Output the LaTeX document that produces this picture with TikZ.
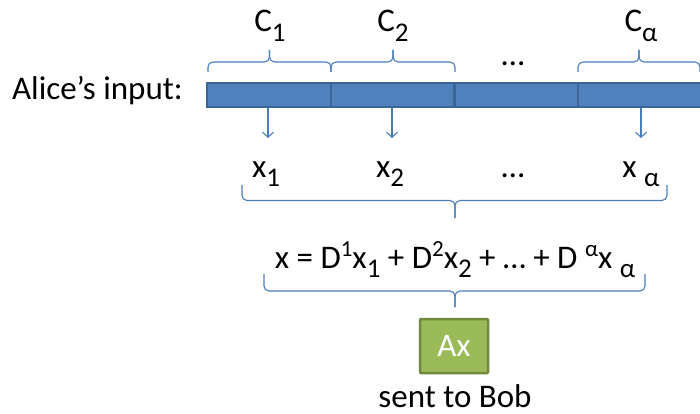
\documentclass[tikz,border=0pt]{standalone}
\usepackage{fontspec}
\setmainfont{Carlito}
\usetikzlibrary{arrows.meta}
\definecolor{barfill}{HTML}{4F81BD}
\definecolor{barline}{HTML}{3A6596}
\definecolor{lineblue}{HTML}{4A7EBB}
\definecolor{gfill}{HTML}{9BBB59}
\definecolor{gline}{HTML}{71893F}
\newcommand{\mysub}[1]{\raisebox{-0.3em}{\fontsize{27}{27}\selectfont #1}}
\newcommand{\mysup}[1]{\raisebox{0.36em}{\fontsize{23}{23}\selectfont #1}}
\begin{document}
\begin{tikzpicture}[x=1pt,y=-1pt,
  lbl/.style={inner sep=0pt,anchor=base,font=\fontsize{33}{38}\selectfont},
  seg/.style={draw=barline,fill=barfill,line width=2.2pt,minimum height=24pt,minimum width=124pt,inner sep=0pt},
  bracestyle/.style={draw=lineblue,line width=1.1pt,rounded corners=5pt},
  arr/.style={draw=lineblue,line width=1.1pt,-{Straight Barb[length=5pt,width=11pt]}},
  axbox/.style={draw=gline,fill=gfill,line width=2.5pt,minimum width=68pt,minimum height=54pt,inner sep=0pt,rounded corners=1pt,text=white,font=\fontsize{33}{38}\selectfont}]
\useasboundingbox (0,0) rectangle (700,414);
\clip (0,0) rectangle (700,414);
% bar
\node[seg] (s1) at (269,95) {};
\node[seg] (s2) at (393,95) {};
\node[seg] (s3) at (516.5,95) {};
\node[seg] (s4) at (640,95) {};
\node[lbl,anchor=base east] (alice) at (183,99.5) {Alice’s input:};
% top braces
\draw[bracestyle] (208,72) -- (208,62) -- (269.5,62) -- (269.5,50);
\draw[bracestyle] (331,72) -- (331,62) -- (269.5,62) -- (269.5,50);
\draw[bracestyle] (331,72) -- (331,62) -- (393,62) -- (393,50);
\draw[bracestyle] (455,72) -- (455,62) -- (393,62) -- (393,50);
\draw[bracestyle] (578,72) -- (578,62) -- (639,62) -- (639,50);
\draw[bracestyle] (700,72) -- (700,62) -- (639,62) -- (639,50);
\node[lbl] (c1) at (270,32) {C\mysub{1}};
\node[lbl] (c2) at (393,32) {C\mysub{2}};
\node[lbl] (dots1) at (513,66) {…};
\node[lbl] (ca) at (641,32) {C\mysub{α}};
% x labels
\node[lbl] (x1) at (266,177) {x\mysub{1}};
\node[lbl] (x2) at (390,177) {x\mysub{2}};
\node[lbl] (dots2) at (513,177) {…};
\node[lbl] (xa) at (641,177) {x \mysub{α}};
\coordinate (e1) at (268,138);
\coordinate (e2) at (392,138);
\coordinate (e4) at (641,138);
\draw[arr] (s1.south -| e1) -- (e1);
\draw[arr] (s2.south -| e2) -- (e2);
\draw[arr] (s4.south -| e4) -- (e4);
% brace under x
\draw[bracestyle] (242,185) -- (242,200.5) -- (455,200.5) -- (455,218);
\draw[bracestyle] (667,185) -- (667,200.5) -- (455,200.5) -- (455,218);
% equation
\node[lbl] (eq) at (455,268) {x = D\mysup{1}x\mysub{1} + D\mysup{2}x\mysub{2} + … + D \mysup{α}x \mysub{α}};
\draw[bracestyle] (264,274) -- (264,291) -- (455,291) -- (455,307);
\draw[bracestyle] (645,274) -- (645,291) -- (455,291) -- (455,307);
% Ax
\node[axbox] (ax) at (454,346) {Ax};
\node[lbl] (bob) at (455,407) {sent to Bob};
\end{tikzpicture}
\end{document}
